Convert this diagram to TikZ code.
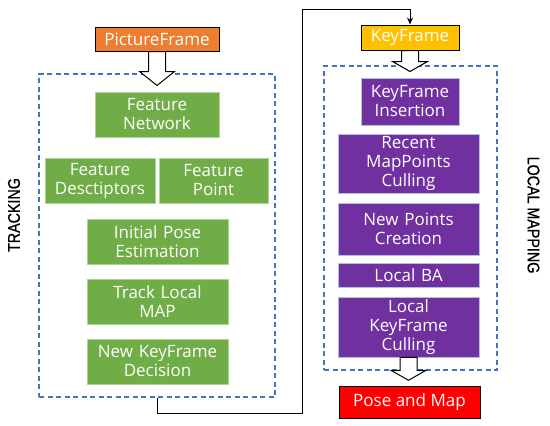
\documentclass[tikz,border=0pt]{standalone}
\usepackage{fontspec}
\setmainfont{Open Sans}
\newfontfamily\sidefont{Liberation Sans}[FakeStretch=0.84, FakeBold=0.8]
\usetikzlibrary{arrows.meta, positioning, calc}
\definecolor{trackgreen}{HTML}{70AD47}
\definecolor{mapviolet}{HTML}{7030A0}
\definecolor{frameorange}{HTML}{ED7D31}
\definecolor{keygold}{HTML}{FFC000}
\definecolor{boxblue}{HTML}{4472C4}
\tikzstyle{track} = [rectangle, text width=130pt, align=center, text=white, draw=trackgreen!55!white, line width=0.6pt, fill=trackgreen, font=\fontsize{17}{19}\selectfont, inner sep=0pt]
\tikzstyle{mapping} = [rectangle, text width=130pt, align=center, text=white, draw=boxblue!45!white, line width=0.6pt, fill=mapviolet, font=\fontsize{17}{19}\selectfont, inner sep=0pt]
\tikzstyle{frame} = [rectangle, align=center, draw=black, line width=1pt, font=\fontsize{17}{19}\selectfont, inner sep=0pt]
\tikzstyle{group} = [rectangle, draw=boxblue, line width=1.1pt, dash pattern=on 5pt off 3.5pt]
\tikzstyle{hollow} = [draw=black, line width=1pt, fill=white]
\tikzstyle{arrow} = [line width=1pt, -{Stealth[length=7pt, width=6pt]}]
\tikzstyle{side} = [font=\sidefont\fontsize{17}{20}\selectfont, text=black]
% block arrow pointing down: start, length, head length
\newcommand{\hollowdown}[3]{%
  \draw[hollow] (#1) ++(-8.5,0) -- ++(0,{#2-#3}) -- ++(-9,0) -- ++(17.5,#3)
    -- ++(17.5,-#3) -- ++(-9,0) -- ++(0,{#3-#2}) -- cycle;}

\begin{document}
\begin{tikzpicture}[x=1pt, y=-1pt, node distance=60pt]
    \useasboundingbox (0,0) rectangle (550,426);

    % tracking thread
    \node (pic) [frame, fill=frameorange, text=white, minimum width=124pt, minimum height=24pt] at (157,39) {PictureFrame};
    \node (tracker) [group, minimum width=236pt, minimum height=323pt] at (157,235.5) {};
    \node (fnet) [track, text width=124pt, minimum height=45pt] at (157,114.5) {Feature\\Network};
    \node (fdesc) [track, text width=110pt, minimum height=45pt] at (100,180.5) {Feature\\Desctiptors};
    \node (fpoint) [track, text width=109pt, minimum height=45pt] at (213.5,180.5) {Feature\\Point};
    \node (ipose) [track, text width=141pt, minimum height=45pt] at (157.5,241.5) {Initial Pose\\Estimation};
    \node (tlmap) [track, text width=141pt, minimum height=45pt, below of=ipose] {Track Local\\MAP};
    \node (nkf) [track, text width=141pt, minimum height=45pt, below of=tlmap] {New KeyFrame\\Decision};
    \node (tracklabel) [side, rotate=90] at (14,215) {TRACKING};

    % local mapping thread
    \node (kf) [frame, fill=keygold, text=white, minimum width=98pt, minimum height=25pt] at (410,37.5) {KeyFrame};
    \node (mapper) [group, minimum width=173pt, minimum height=304pt] at (410.5,218) {};
    \node (kfi) [mapping, text width=98pt, minimum height=47pt] at (410,101.5) {KeyFrame\\Insertion};
    \node (rmc) [mapping, text width=141pt, minimum height=59pt] at (408.5,163.5) {Recent\\MapPoints\\Culling};
    \node (npc) [mapping, text width=141pt, minimum height=52pt] at (408.5,229) {New Points\\Creation};
    \node (lba) [mapping, text width=141pt, minimum height=24pt] at (408.5,275) {Local BA};
    \node (lkc) [mapping, text width=141pt, minimum height=60pt] at (408.5,327) {Local\\KeyFrame\\Culling};
    \node (pose) [frame, fill=red, text=white, minimum width=141pt, minimum height=32pt] at (409.5,402) {Pose and Map};
    \node (maplabel) [side, rotate=-90] at (533.5,215) {LOCAL MAPPING};

    % block arrows
    \hollowdown{pic.south}{34}{14}
    \hollowdown{kf.south}{21}{10}
    \hollowdown{lkc.south}{23}{10}

    % hand-over from tracking to local mapping
    \coordinate (low) at (302,413);
    \coordinate (high) at (302,9);
    \draw [arrow] (tracker.south) |- (low) -- (high) -| (kf.north);
\end{tikzpicture}
\end{document}
